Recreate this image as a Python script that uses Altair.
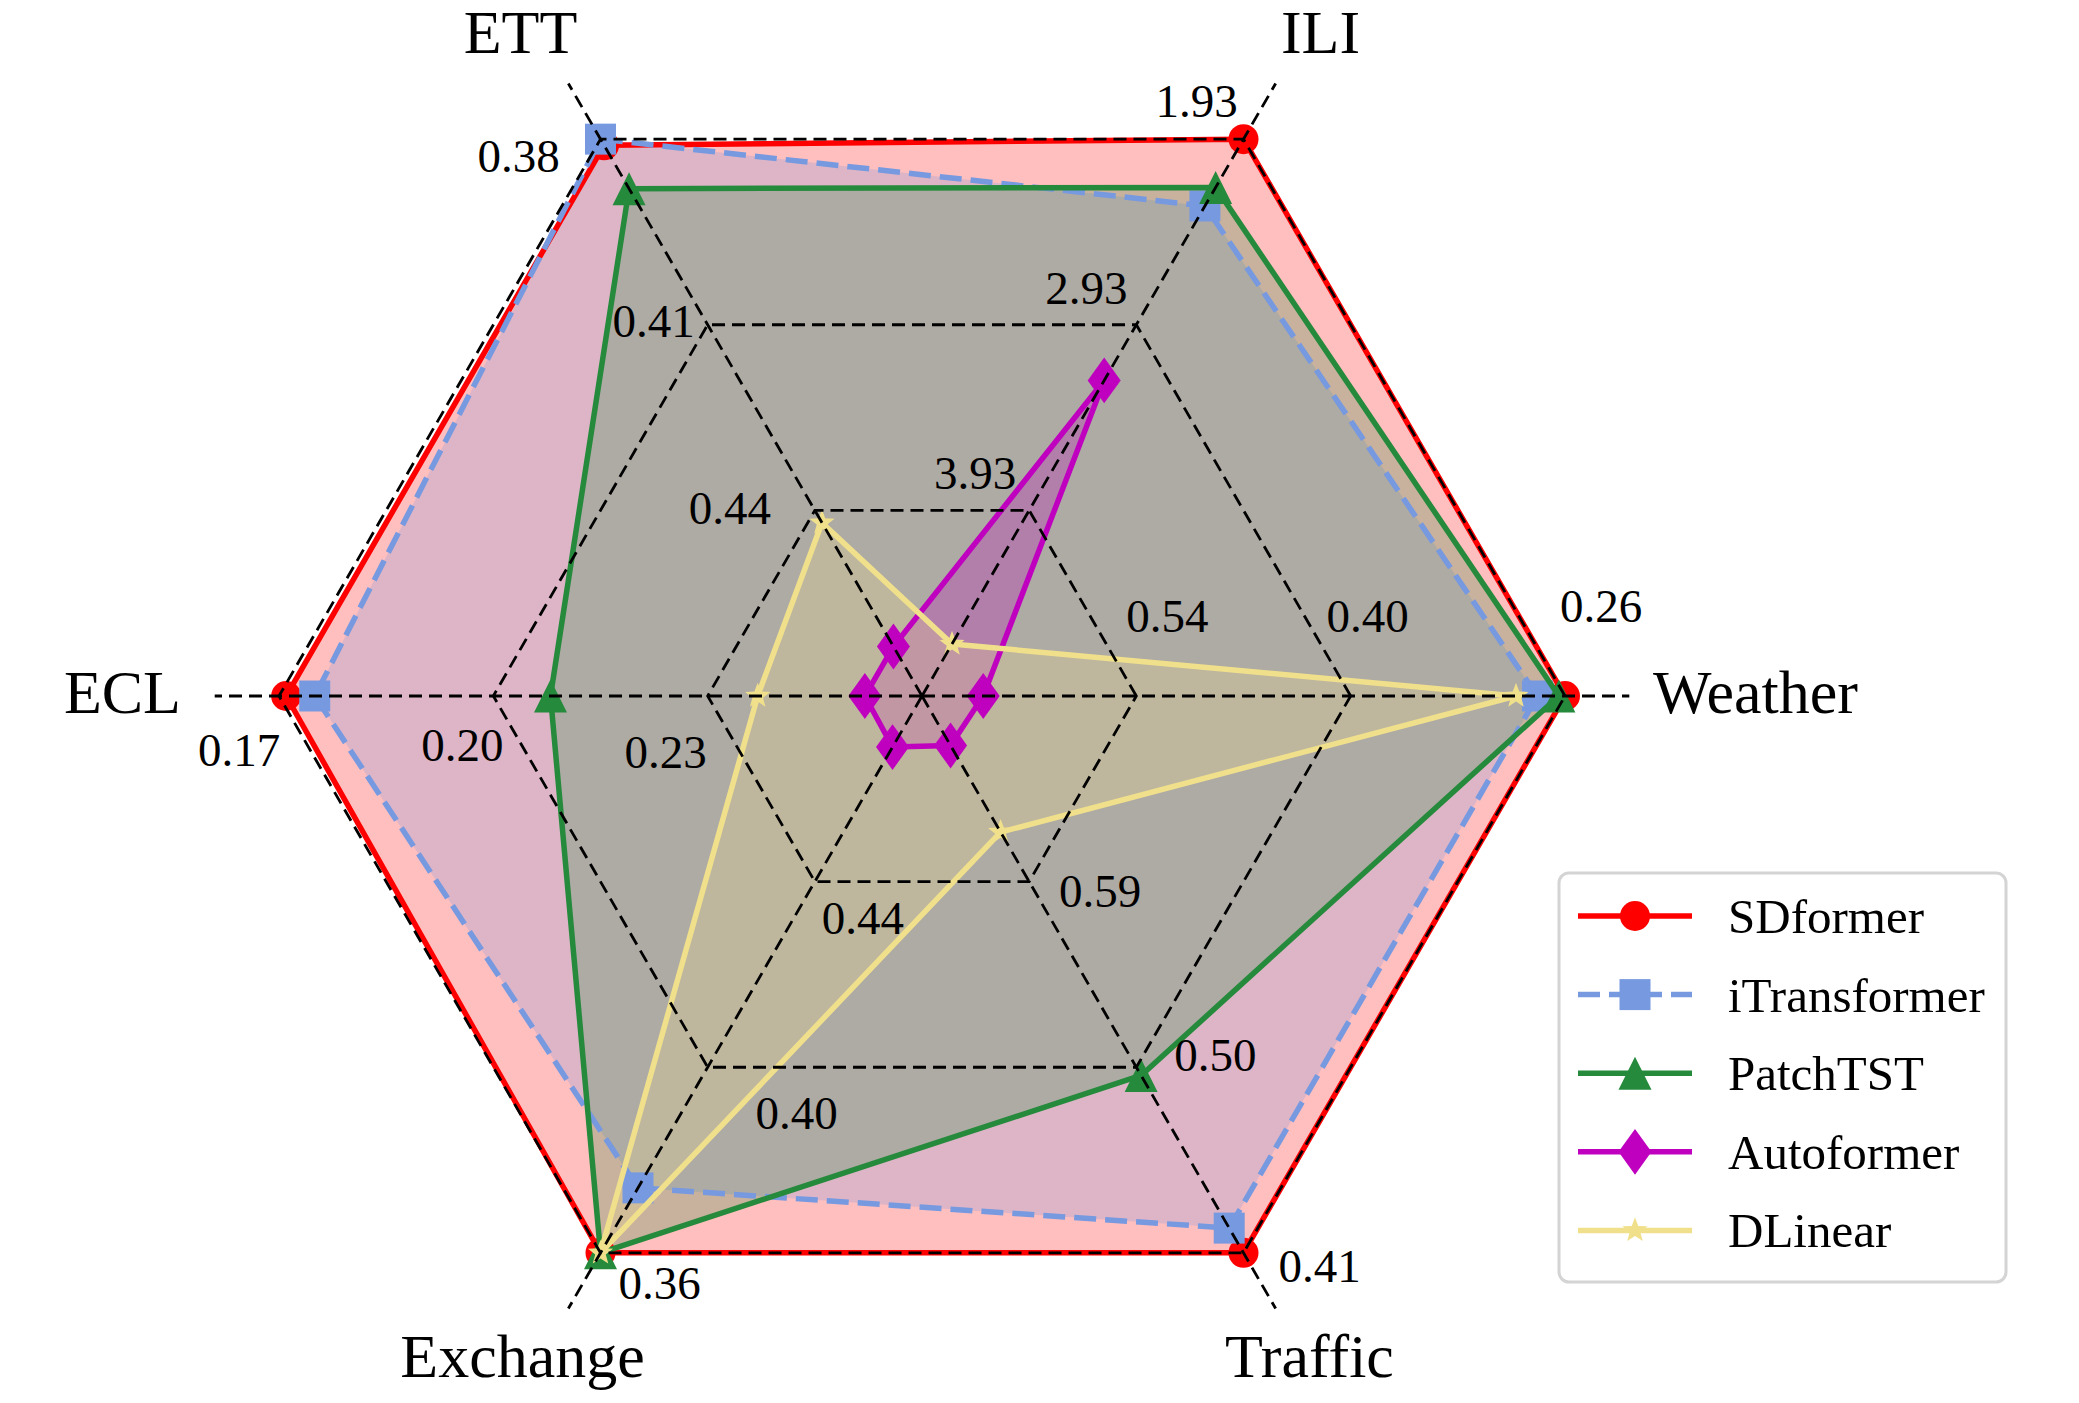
import math
import pandas as pd
import altair as alt

# ---------------- data ----------------
axes_names = ["Weather", "ILI", "ETT", "ECL", "Exchange", "Traffic"]
axes_angles = [0, 60, 120, 180, 240, 300]

# ring tick labels per axis (inner ring -> outer ring)
tick_weather = ["0.54", "0.40", "0.26"]
tick_ili = ["3.93", "2.93", "1.93"]
tick_ett = ["0.44", "0.41", "0.38"]
tick_ecl = ["0.23", "0.20", "0.17"]
tick_exchange = ["0.44", "0.40", "0.36"]
tick_traffic = ["0.59", "0.50", "0.41"]
tick_lists = [tick_weather, tick_ili, tick_ett, tick_ecl, tick_exchange, tick_traffic]

models = ["SDformer", "iTransformer", "PatchTST", "Autoformer", "DLinear"]
# values in axis order: Weather, ILI, ETT, ECL, Exchange, Traffic
sdformer = [0.260, 1.93, 0.381, 0.171, 0.360, 0.410]
itransformer = [0.278, 2.29, 0.380, 0.175, 0.374, 0.422]
patchtst = [0.264, 2.19, 0.388, 0.208, 0.360, 0.496]
autoformer = [0.640, 3.23, 0.462, 0.252, 0.469, 0.656]
dlinear = [0.292, 4.65, 0.442, 0.237, 0.360, 0.614]
series_values = [sdformer, itransformer, patchtst, autoformer, dlinear]

# ---------------- style / layout ----------------
colors = ["#ff0000", "#7799e0", "#258a3c", "#bf00bf", "#f0e08c"]
dashes = [None, [22, 9], None, None, None]

star = []
for k in range(10):
    a = math.radians(-90 + 36 * k)
    r = 1.0 if k % 2 == 0 else 0.42
    star.append(f"{r*math.cos(a):.3f},{r*math.sin(a):.3f}")
STAR_PATH = "M" + "L".join(star) + "Z"
TRI_PATH = "M0,-1L1,1L-1,1Z"
THIN_DIAMOND = "M0,-1L0.72,0L0,1L-0.72,0Z"
shapes = ["circle", "square", TRI_PATH, THIN_DIAMOND, STAR_PATH]
sizes = [900, 961, 1089, 2100, 700]

FONT = "Liberation Serif"
W, H = 2056, 1387
RPX = 643.0
CXP, CYP = 922.0, 696.0
MARGIN = 8.0
xmin = -(CXP - MARGIN) / RPX
xmax = xmin + W / RPX
ymax = (CYP - MARGIN) / RPX
ymin = ymax - H / RPX


def px2x(px):
    return (px - CXP) / RPX


def px2y(py):
    return (CYP - py) / RPX


xs = alt.Scale(domain=[xmin, xmax], nice=False, zero=False)
ys = alt.Scale(domain=[ymin, ymax], nice=False, zero=False)
X = lambda f: alt.X(f"{f}:Q", scale=xs, axis=None)
Y = lambda f: alt.Y(f"{f}:Q", scale=ys, axis=None)


def frac(ai, v):
    t = [float(s) for s in tick_lists[ai]]
    c = 2 * t[0] - t[1]
    return (c - v) / (c - t[2])


def polar(f, ai):
    a = math.radians(axes_angles[ai])
    return f * math.cos(a), f * math.sin(a)


layers = []

# series data
series_dfs = []
for si, m in enumerate(models):
    rows = []
    for ai, v in enumerate(series_values[si]):
        x, y = polar(frac(ai, v), ai)
        rows.append({"model": m, "axis": axes_names[ai], "value": v, "idx": ai, "x": x, "y": y})
    series_dfs.append(pd.DataFrame(rows))

# fills first (matplotlib patches below lines)
for si, df in enumerate(series_dfs):
    layers.append(
        alt.Chart(df).mark_line(
            interpolate="linear-closed", fill=colors[si], fillOpacity=0.25,
            strokeOpacity=0, strokeWidth=0
        ).encode(x=X("x"), y=Y("y"), order=alt.Order("idx:Q"))
    )

# lines and markers
for si, df in enumerate(series_dfs):
    kw = dict(interpolate="linear-closed", color=colors[si], strokeWidth=5.5,
              strokeJoin="round", fillOpacity=0)
    if dashes[si]:
        kw["strokeDash"] = dashes[si]
        kw["strokeJoin"] = "miter"
    layers.append(
        alt.Chart(df).mark_line(**kw).encode(x=X("x"), y=Y("y"), order=alt.Order("idx:Q"))
    )
    layers.append(
        alt.Chart(df).mark_point(
            shape=shapes[si], filled=True, size=sizes[si], color=colors[si],
            opacity=1, strokeWidth=0
        ).encode(x=X("x"), y=Y("y"))
    )

# grid rings
ring_rows = []
for ri in range(3):
    f = (ri + 1) / 3
    for ai in range(6):
        x, y = polar(f, ai)
        ring_rows.append({"ring": ri, "idx": ai, "x": x, "y": y})
layers.append(
    alt.Chart(pd.DataFrame(ring_rows)).mark_line(
        interpolate="linear-closed", color="black", strokeWidth=2.8, strokeDash=[13, 7]
    ).encode(x=X("x"), y=Y("y"), detail="ring:N", order=alt.Order("idx:Q"))
)

# spokes
spoke_rows = []
for ai in range(6):
    x, y = polar(1.1, ai)
    spoke_rows.append({"x0": 0.0, "y0": 0.0, "x1": x, "y1": y})
layers.append(
    alt.Chart(pd.DataFrame(spoke_rows)).mark_rule(
        color="black", strokeWidth=2.8, strokeDash=[13, 7]
    ).encode(x=X("x0"), y=Y("y0"), x2="x1:Q", y2="y1:Q")
)

# tick labels (pixel offsets from ring vertex)
tick_offsets = [
    [(31, -78), (17, -78), (36, -88)],
    [(-54, -35), (-50, -35), (-47, -36)],
    [(-85, 0), (-54, -2), (-82, 19)],
    [(-42, 58), (-31, 51), (-40, 56)],
    [(48, 38), (89, 48), (59, 32)],
    [(71, 11), (79, -10), (76, 15)],
]
tick_rows = []
for ai in range(6):
    for ri in range(3):
        x, y = polar((ri + 1) / 3, ai)
        dx, dy = tick_offsets[ai][ri]
        tick_rows.append({"label": tick_lists[ai][ri], "x": x + dx / RPX, "y": y - dy / RPX})
layers.append(
    alt.Chart(pd.DataFrame(tick_rows)).mark_text(
        font=FONT, fontSize=47, color="black", align="center", baseline="middle"
    ).encode(x=X("x"), y=Y("y"), text="label:N")
)

# axis (category) labels
cat_offsets = [(88, 17), (77, -86), (-80, -86), (-98, 17), (-78, 124), (66, 124)]
cat_align = ["left", "center", "center", "right", "center", "center"]
for ai in range(6):
    x, y = polar(1.0, ai)
    dx, dy = cat_offsets[ai]
    d = pd.DataFrame([{"label": axes_names[ai], "x": x + dx / RPX, "y": y - dy / RPX}])
    layers.append(
        alt.Chart(d).mark_text(
            font=FONT, fontSize=62, color="black", align=cat_align[ai], baseline="alphabetic"
        ).encode(x=X("x"), y=Y("y"), text="label:N")
    )

# legend
LEG_L, LEG_R, LEG_T, LEG_B = 1559, 2006, 873, 1282
box = pd.DataFrame([{"x": px2x(LEG_L), "x2": px2x(LEG_R), "y": px2y(LEG_T), "y2": px2y(LEG_B)}])
layers.append(
    alt.Chart(box).mark_rect(
        fill="white", stroke="#d4d4d4", strokeWidth=3, cornerRadius=10
    ).encode(x=X("x"), x2="x2:Q", y=Y("y"), y2="y2:Q")
)
ROW0, ROWSTEP = 916, 78.6
for si, m in enumerate(models):
    ry = ROW0 + si * ROWSTEP
    seg = pd.DataFrame([{"x": px2x(1578), "x2": px2x(1692), "y": px2y(ry)}])
    kw = dict(color=colors[si], strokeWidth=5.5)
    if dashes[si]:
        kw["strokeDash"] = dashes[si]
    layers.append(alt.Chart(seg).mark_rule(**kw).encode(x=X("x"), x2="x2:Q", y=Y("y")))
    pt = pd.DataFrame([{"x": px2x(1635), "y": px2y(ry), "label": m}])
    layers.append(
        alt.Chart(pt).mark_point(
            shape=shapes[si], filled=True, size=sizes[si], color=colors[si],
            opacity=1, strokeWidth=0
        ).encode(x=X("x"), y=Y("y"))
    )
    tx = pd.DataFrame([{"x": px2x(1728), "y": px2y(ry), "label": m}])
    layers.append(
        alt.Chart(tx).mark_text(
            font=FONT, fontSize=49, color="black", align="left", baseline="middle", dy=2
        ).encode(x=X("x"), y=Y("y"), text="label:N")
    )

chart = alt.layer(*layers).properties(
    width=W, height=H, padding=0,
    autosize=alt.AutoSizeParams(type="none"),
    background="white",
).configure_view(stroke=None)

chart.save("out.html", embed_options={"renderer": "svg", "actions": False})
